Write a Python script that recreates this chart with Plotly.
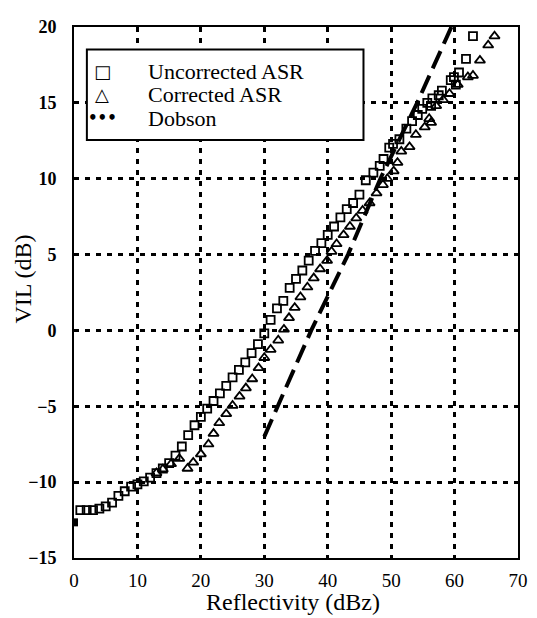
import plotly.graph_objects as go

# Uncorrected ASR (open squares); the point at 0 dBZ is drawn filled
sq_x = [0, 1, 2, 3, 4, 5, 6, 7, 8, 9,
        10, 11, 12, 13, 14, 15, 16, 17, 18, 19,
        20, 21, 22, 23, 24, 25, 26, 27, 28, 29,
        30, 31, 32, 33, 34, 35, 36, 37, 38, 39,
        40, 41, 42, 43, 44, 45, 46, 47.2, 48.2, 48.8,
        49.7, 50.3, 51.3, 52.4, 53.3, 54.2, 54.9, 55.7, 56.3, 56.5,
        57.5, 58.0, 59.4, 59.9, 60.2, 60.7, 61.8, 62.9]
sq_y = [-12.65, -11.85, -11.85, -11.85, -11.75, -11.6, -11.35, -10.9, -10.6, -10.3,
        -10.15, -9.95, -9.7, -9.4, -9.1, -8.75, -8.25, -7.65, -6.9, -6.25,
        -5.7, -5.15, -4.65, -4.15, -3.65, -3.1, -2.6, -2.1, -1.5, -0.9,
        -0.2, 0.7, 1.45, 1.95, 2.8, 3.4, 3.95, 4.6, 5.25, 5.75,
        6.3, 6.85, 7.45, 8.0, 8.4, 8.95, 9.9, 10.4, 10.85, 11.3,
        12.05, 12.3, 12.6, 13.3, 13.8, 14.2, 14.6, 15.0, 14.8, 15.3,
        15.5, 15.8, 16.5, 16.7, 16.2, 17.0, 17.9, 19.4]

# Corrected ASR (open triangles)
tr_x = [13, 14, 15.3, 16.6, 17.9, 18.8, 20.0, 21.2, 22.0, 22.9,
        24.0, 25.0, 26.1, 27.1, 28.1, 29.1, 30.0, 31.0, 32.2, 33.1,
        33.9, 34.8, 35.7, 36.8, 37.8, 38.8, 39.9, 40.6, 41.4, 42.5,
        43.5, 44.5, 45.5, 46.6, 47.7, 48.7, 49.4, 50.4, 51.0, 51.6,
        52.9, 53.9, 55.3, 56.0, 56.3, 57.1, 58.2, 59.2, 60.5, 62.1,
        62.9, 64.0, 65.3, 66.3]
tr_y = [-9.4, -9.15, -8.8, -8.45, -9.1, -8.7, -8.15, -7.5, -6.8, -6.1,
        -5.5, -4.95, -4.35, -3.8, -3.2, -2.47, -1.8, -1.26, -0.65, 0.07,
        0.83, 1.5, 2.2, 2.85, 3.45, 4.05, 4.6, 5.2, 5.7, 6.3,
        6.85, 7.4, 7.9, 8.4, 9.05, 9.6, 10.0, 10.5, 11.06, 11.8,
        12.1, 12.9, 13.4, 13.95, 13.7, 14.8, 15.2, 15.6, 16.2, 16.7,
        16.8, 17.8, 18.8, 19.4]

# Dobson relation
dob_x = [30.0, 37.4, 43.2, 48.3, 54.1, 59.5]
dob_y = [-7.0, 0, 5, 10, 15, 20]

x_ticks = [0, 10, 20, 30, 40, 50, 60, 70]
y_ticks = [-15, -10, -5, 0, 5, 10, 15, 20]

legend_symbols = ["\u25a1", "\u25b3", "\u2022\u2022\u2022"]
legend_labels = ["Uncorrected ASR", "Corrected ASR", "Dobson"]

SERIF = "Liberation Serif, Times New Roman, serif"

fig = go.Figure()
fig.add_trace(go.Scatter(
    x=sq_x[1:], y=sq_y[1:], mode="markers", name="Uncorrected ASR",
    marker=dict(symbol="square-open", size=8, color="black",
                line=dict(color="black", width=1.8)),
))
fig.add_trace(go.Scatter(
    x=sq_x[:1], y=sq_y[:1], mode="markers", name="Uncorrected ASR",
    marker=dict(symbol="square", size=8, color="black"),
))
fig.add_trace(go.Scatter(
    x=tr_x, y=tr_y, mode="markers", name="Corrected ASR",
    marker=dict(symbol="triangle-up-open", size=9, color="black",
                line=dict(color="black", width=1.8)),
))
fig.add_trace(go.Scatter(
    x=dob_x, y=dob_y, mode="lines", name="Dobson",
    line=dict(color="black", width=4, dash="19px,8px"),
))

# hand-made key box, as in the original figure
row_y = [0.917, 0.872, 0.828]
sym_sizes = [18, 18, 15]
annotations = []
for sym, label, ry, ss in zip(legend_symbols, legend_labels, row_y, sym_sizes):
    annotations.append(dict(
        text=sym, xref="paper", yref="paper", x=0.064, y=ry,
        xanchor="center", yanchor="middle", showarrow=False,
        font=dict(family="DejaVu Sans", size=ss, color="black", weight="bold")))
    annotations.append(dict(
        text=label, xref="paper", yref="paper", x=0.162, y=ry,
        xanchor="left", yanchor="middle", showarrow=False,
        font=dict(family=SERIF, size=22, color="black")))
annotations += [
    dict(text="VIL (dB)", xref="paper", yref="paper", x=-0.114, y=0.525,
         xanchor="center", yanchor="middle", textangle=-90, showarrow=False,
         font=dict(family=SERIF, size=24, color="black")),
    dict(text="Reflectivity (dBz)", xref="paper", yref="paper", x=0.493, y=-0.083,
         xanchor="center", yanchor="middle", showarrow=False,
         font=dict(family=SERIF, size=24, color="black")),
]

# page body adds an 8px offset, so the figure is sized to fit the window
fig.update_layout(
    width=529, height=610,
    margin=dict(l=66, r=17, t=9, b=60),
    paper_bgcolor="white", plot_bgcolor="white",
    font=dict(family=SERIF, color="black", size=18),
    showlegend=False,
    shapes=[dict(type="rect", xref="paper", yref="paper",
                 x0=0.029, x1=0.652, y0=0.787, y1=0.9575,
                 fillcolor="white", line=dict(color="black", width=2),
                 layer="above")],
    annotations=annotations,
)
fig.update_xaxes(
    range=[0, 70], tickvals=x_ticks, ticks="", ticklabelstandoff=4,
    tickfont=dict(family=SERIF, size=19, color="black"),
    showline=True, linecolor="black", linewidth=2, mirror=True,
    showgrid=True, gridcolor="black", gridwidth=2.5, griddash="5px,6px",
    zeroline=False,
)
fig.update_yaxes(
    range=[-15, 20], tickvals=y_ticks, ticks="", ticklabelstandoff=12,
    tickfont=dict(family=SERIF, size=18, color="black", weight="bold"),
    showline=True, linecolor="black", linewidth=2, mirror=True,
    showgrid=True, gridcolor="black", gridwidth=2.5, griddash="5px,6px",
    zeroline=False,
)

fig.write_html("out.html")
